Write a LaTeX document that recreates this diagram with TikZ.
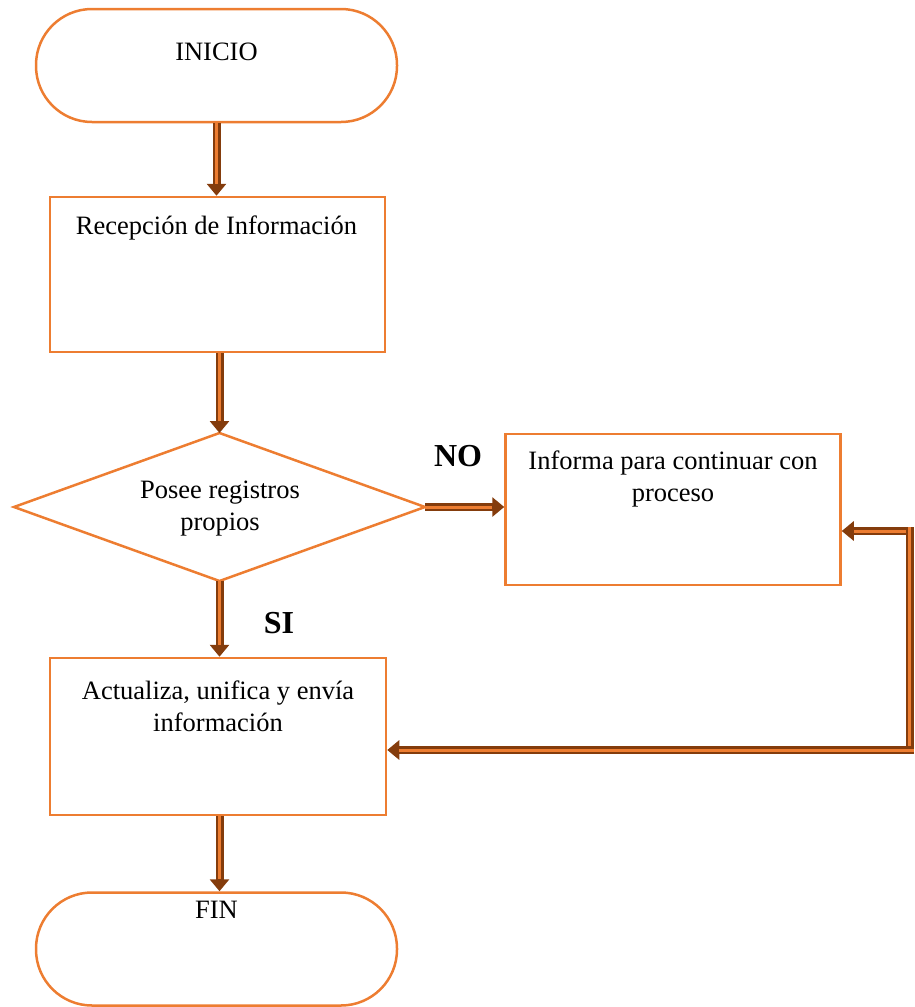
\documentclass[tikz,border=0pt]{standalone}
\usepackage{fontspec}
\setmainfont{Liberation Serif}
\usetikzlibrary{arrows.meta,calc}
\definecolor{org}{HTML}{ED7D31}
\definecolor{brn}{HTML}{843C0C}
\tikzset{
  shapeline/.style={draw=org, line width=2.5pt},
  term/.style={shapeline, rectangle, rounded corners=56pt, minimum width=361pt, minimum height=113pt, inner sep=0pt},
  procbox/.style={shapeline, rectangle, minimum width=335pt, minimum height=155pt, inner sep=0pt},
  decis/.style={shapeline},
  txt/.style={font=\fontsize{26.5pt}{32pt}\selectfont, align=center, inner sep=0pt},
  lbl/.style={font=\fontsize{32pt}{36pt}\selectfont\bfseries, inner sep=0pt},
  brarrow/.style={draw=brn, line width=8pt, -{Triangle[width=19pt,length=12pt]},
     postaction={draw=org, line width=3pt, -, shorten >=12pt}},
  brline/.style={draw=brn, line width=8pt,
     postaction={draw=org, line width=3pt}},
}
\begin{document}
\begin{tikzpicture}[x=1pt,y=-1pt]
\useasboundingbox (0,0) rectangle (914,1007);
% shapes
\node[term] (ini) at (216.5,65.5) {};
\node[txt] (initxt) at (216.5,52) {INICIO};
\node[procbox] (rec) at (217.5,274.5) {};
\node[txt] (rectxt) at (216.5,228) {Recepción de Información};
\path[decis] (14,507) coordinate (dw) -- (219.5,433) coordinate (dn) -- (425,507) coordinate (de) -- (219.5,581) coordinate (ds) -- cycle;
\node[txt] (dtxt) at (220,509) {Posee registros\\propios};
\node[procbox, minimum height=151pt] (inf) at (673,509.5) {};
\node[txt] (inftxt) at (673,478.5) {Informa para continuar con\\proceso};
\node[procbox, minimum height=157pt, minimum width=336pt] (act) at (218,736.5) {};
\node[txt] (acttxt) at (218,706) {Actualiza, unifica y envía\\información};
\node[term] (fin) at (216.5,949) {};
\node[txt] (fintxt) at (216.5,910) {FIN};
\node[lbl] (no) at (458,456) {NO};
\node[lbl] (si) at (279,623) {SI};
% connectors
\draw[brarrow] (ini.south -| 216.5,0) -- (rec.north -| 216.5,0);
\draw[brarrow] (rec.south -| dn) -- (dn);
\draw[brarrow] (ds) -- (act.north -| ds);
\draw[brarrow] (de) -- (inf.west |- de);
\draw[brarrow] (act.south -| 219.5,0) -- (fin.north -| 219.5,0);
\coordinate (fb) at (909.5,531);
\coordinate (fc) at (909.5,750);
\draw[brarrow] (fb) -- (inf.east |- fb);
\draw[brline] ($(fb)+(0,-4)$) -- (fc);
\draw[brarrow] ($(fc)+(4,0)$) -- (act.east |- fc);
\end{tikzpicture}
\end{document}
